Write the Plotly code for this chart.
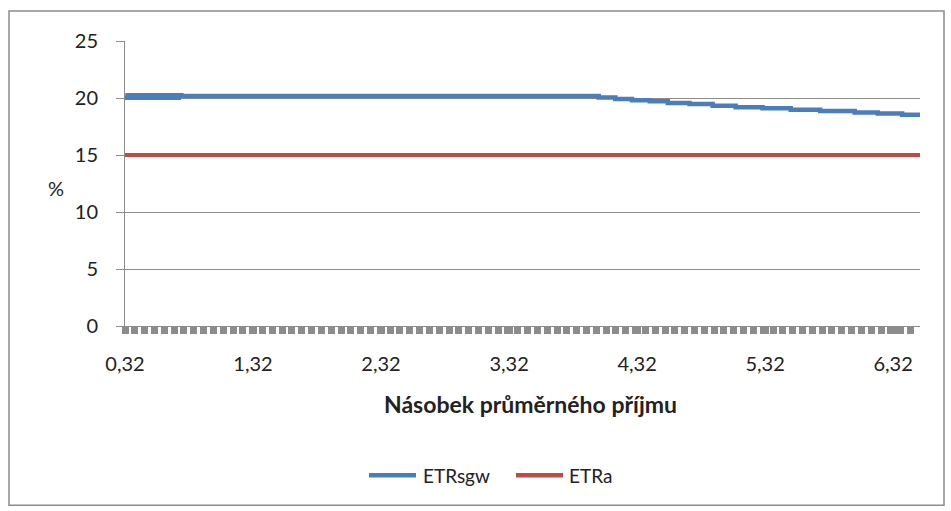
import plotly.graph_objects as go

# ---- data ----
etr_sgw_x = [0.32, 0.34, 0.36, 0.38, 0.40, 0.42, 0.44, 0.46, 0.48, 0.50, 0.52, 0.54,
             0.56, 0.58, 0.60, 0.62, 0.64, 0.66, 0.68, 0.70, 0.72, 0.74, 0.76,
             4.02, 4.15, 4.28, 4.42, 4.56, 4.73, 4.91, 5.09, 5.30, 5.52, 5.75,
             6.02, 6.20, 6.39, 6.53]
etr_sgw_y = [20.02, 20.24, 20.02, 20.24, 20.02, 20.24, 20.02, 20.24, 20.02, 20.24, 20.02, 20.24,
             20.02, 20.24, 20.02, 20.24, 20.02, 20.24, 20.02, 20.24, 20.02, 20.24, 20.18,
             20.05, 19.92, 19.81, 19.72, 19.57, 19.47, 19.31, 19.19, 19.11, 18.98, 18.87,
             18.72, 18.63, 18.52, 18.52]
etr_a_x = [0.32, 6.53]
etr_a_y = [15, 15]

series_names = ["ETRsgw", "ETRa"]
series_colors = ["#4A7EBB", "#BE4B48"]

x_tickvals = [0.32, 1.32, 2.32, 3.32, 4.32, 5.32, 6.32]
x_ticktext = ["0,32", "1,32", "2,32", "3,32", "4,32", "5,32", "6,32"]
y_tickvals = [0, 5, 10, 15, 20, 25]

FONT = "Lato"
GRID = "#8c8c8c"
TXT = "#222222"

fig = go.Figure()
fig.add_trace(go.Scatter(x=etr_sgw_x, y=etr_sgw_y, mode="lines", name=series_names[0],
                         showlegend=False,
                         line=dict(color=series_colors[0], width=4.5, shape="hv")))
fig.add_trace(go.Scatter(x=etr_a_x, y=etr_a_y, mode="lines", name=series_names[1],
                         showlegend=False,
                         line=dict(color=series_colors[1], width=4)))

L, R, T, B = 125, 31, 41, 184.5
W, H = 951, 511
pw, ph = W - L - R, H - T - B

def px_x(px):
    return (px - L) / pw

def px_y(py):
    return (H - B - py) / ph

# legend entries (sample line start, sample line end, text left)
legend_pos = [(369, 416, 421), (516, 563, 567)]
legend_y = 476

shapes = [dict(type="rect", xref="paper", yref="paper",
               x0=px_x(9), x1=px_x(944), y0=px_y(506), y1=px_y(11),
               line=dict(color="#8c8c8c", width=1.5), fillcolor="rgba(0,0,0,0)", layer="below")]
annotations = [
    dict(text="%", xref="paper", yref="paper", x=px_x(56), y=px_y(188),
         xanchor="center", yanchor="middle", showarrow=False,
         font=dict(family=FONT, size=20, color=TXT)),
    dict(text="<b>Násobek průměrného příjmu</b>", xref="paper", yref="paper",
         x=px_x(530), y=px_y(405), xanchor="center", yanchor="middle", showarrow=False,
         font=dict(family=FONT, size=23, color=TXT)),
]
for name, color, (a, b, t) in zip(series_names, series_colors, legend_pos):
    shapes.append(dict(type="line", xref="paper", yref="paper",
                       x0=px_x(a), x1=px_x(b), y0=px_y(legend_y), y1=px_y(legend_y),
                       line=dict(color=color, width=4.5)))
    annotations.append(dict(text=name, xref="paper", yref="paper", x=px_x(t), y=px_y(legend_y),
                            xanchor="left", yanchor="middle", showarrow=False,
                            font=dict(family=FONT, size=19, color=TXT)))

fig.update_layout(
    width=W, height=H,
    margin=dict(l=L, r=R, t=T, b=B),
    paper_bgcolor="white", plot_bgcolor="white",
    font=dict(family=FONT, size=20, color=TXT),
    showlegend=False,
    xaxis=dict(range=[0.32, 6.53], tickmode="array", tickvals=x_tickvals, ticktext=x_ticktext,
               showgrid=False, zeroline=False, showline=True, linecolor=GRID, linewidth=1,
               ticks="outside", ticklen=7, tickwidth=7, tickcolor=GRID,
               ticklabelstandoff=13,
               minor=dict(tick0=0.32, dtick=0.0767, ticks="outside", ticklen=7, tickwidth=7,
                          tickcolor=GRID, showgrid=False),
               fixedrange=True),
    yaxis=dict(range=[0, 25], tickmode="array", tickvals=y_tickvals,
               showgrid=True, gridcolor=GRID, gridwidth=1, zeroline=False,
               showline=True, linecolor=GRID, linewidth=1,
               ticks="outside", ticklen=8, tickcolor=GRID, ticklabelstandoff=14,
               fixedrange=True),
    shapes=shapes,
    annotations=annotations,
)

fig.write_html("out.html")
